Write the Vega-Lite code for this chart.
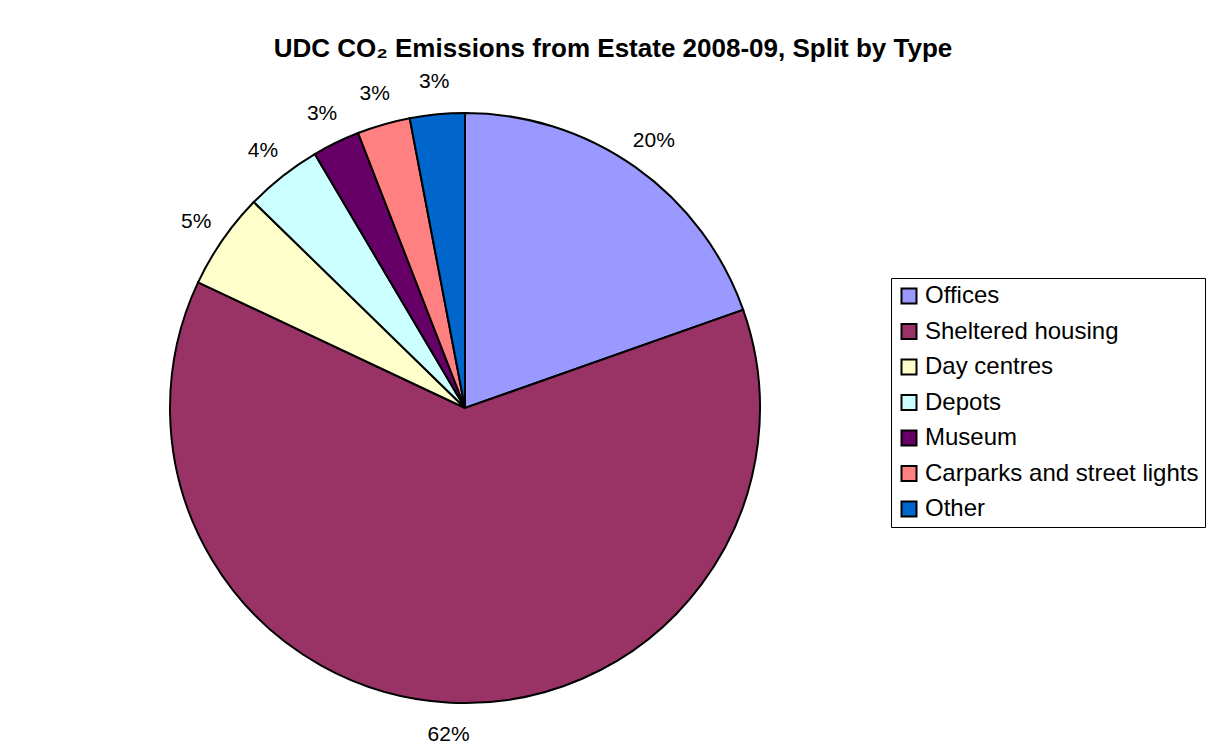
{
  "$schema": "https://vega.github.io/schema/vega-lite/v6.json",
  "width": 590,
  "height": 590,
  "autosize": {"type": "none"},
  "padding": {"left": 170, "top": 113, "right": 457, "bottom": 48},
  "background": "white",
  "title": {
    "text": "UDC CO₂ Emissions from Estate 2008-09, Split by Type",
    "font": "Liberation Sans",
    "fontSize": 26,
    "fontWeight": "bold",
    "color": "black",
    "anchor": "middle",
    "dx": 148,
    "offset": 9
  },
  "data": {
    "values": [
      {"rank": 1, "type": "Offices", "share": 0.196},
      {"rank": 2, "type": "Sheltered housing", "share": 0.624},
      {"rank": 3, "type": "Day centres", "share": 0.053},
      {"rank": 4, "type": "Depots", "share": 0.042},
      {"rank": 5, "type": "Museum", "share": 0.026},
      {"rank": 6, "type": "Carparks and street lights", "share": 0.029},
      {"rank": 7, "type": "Other", "share": 0.030}
    ]
  },
  "encoding": {
    "theta": {"field": "share", "type": "quantitative", "stack": true},
    "order": {"field": "rank", "type": "quantitative"}
  },
  "layer": [
    {
      "mark": {"type": "arc", "outerRadius": 295, "stroke": "black", "strokeWidth": 2},
      "encoding": {
        "color": {
          "field": "type",
          "type": "nominal",
          "sort": null,
          "scale": {
            "domain": ["Offices", "Sheltered housing", "Day centres", "Depots", "Museum", "Carparks and street lights", "Other"],
            "range": ["#9999FF", "#993366", "#FFFFCC", "#CCFFFF", "#660066", "#FF8080", "#0066CC"]
          },
          "legend": {
            "title": null,
            "orient": "none",
            "legendX": 721,
            "legendY": 165,
            "strokeColor": "black",
            "fillColor": "white",
            "padding": 6,
            "symbolType": "square",
            "symbolSize": 225,
            "symbolStrokeColor": "black",
            "symbolStrokeWidth": 2,
            "symbolOpacity": 1,
            "labelFont": "Liberation Sans",
            "labelFontSize": 24,
            "labelColor": "black",
            "labelOffset": 4,
            "labelLimit": 500,
            "rowPadding": 11.5
          }
        }
      }
    },
    {
      "mark": {"type": "text", "radius": 327, "font": "Liberation Sans", "fontSize": 21, "color": "black"},
      "encoding": {
        "text": {"field": "share", "type": "quantitative", "format": ".0%"}
      }
    }
  ],
  "config": {"view": {"stroke": null}}
}
